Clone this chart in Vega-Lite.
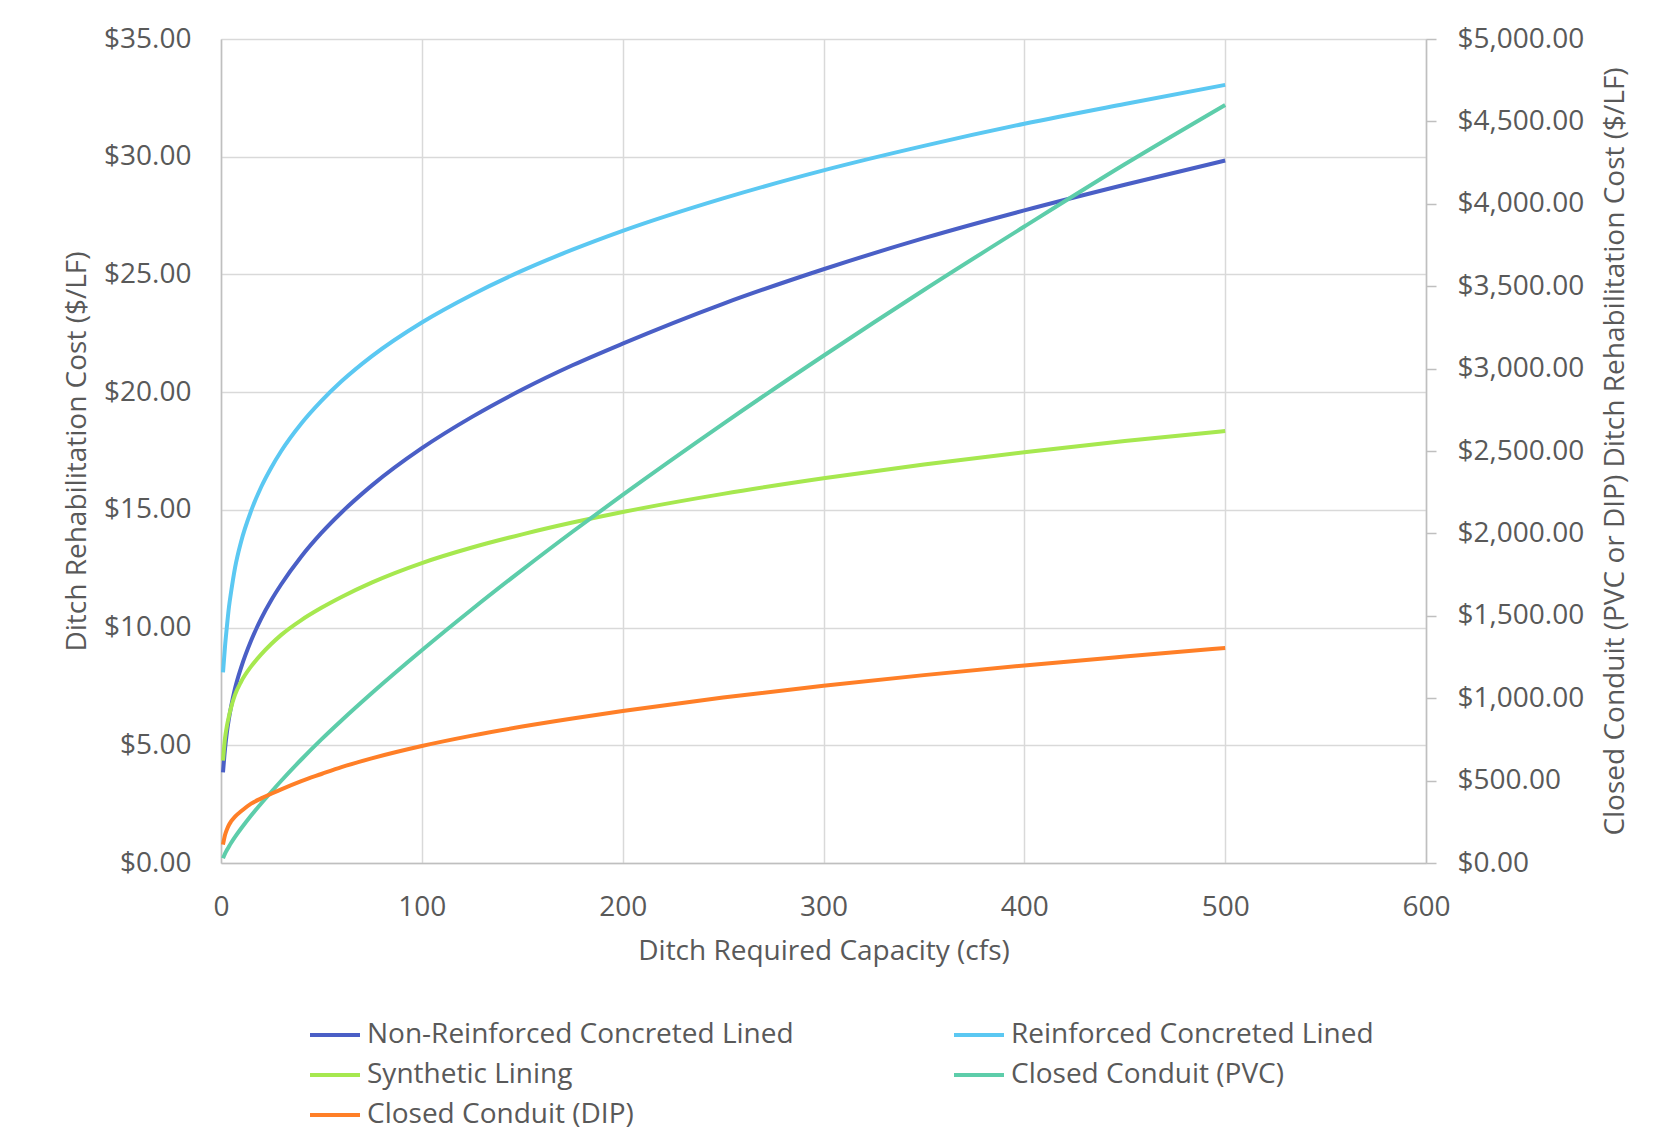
{
  "$schema": "https://vega.github.io/schema/vega-lite/v6.json",
  "width": 1205,
  "height": 824,
  "autosize": {"type": "none"},
  "padding": {"left": 221, "top": 39, "right": 241, "bottom": 282},
  "background": "white",
  "config": {
    "font": "Open Sans",
    "view": {"stroke": null},
    "axis": {
      "labelFont": "Open Sans",
      "titleFont": "Open Sans",
      "labelFontSize": 28,
      "titleFontSize": 28,
      "labelColor": "#595959",
      "titleColor": "#595959",
      "titleFontWeight": "normal",
      "gridColor": "#d9d9d9",
      "gridWidth": 1.5,
      "domainColor": "#bfbfbf",
      "domainWidth": 1.5,
      "tickColor": "#bfbfbf",
      "tickWidth": 1.5,
      "labelFlush": false,
      "labelOverlap": false
    },
    "legend": {
      "labelFont": "Open Sans"
    }
  },
  "datasets": {
    "left": [
      {"q": 1, "s": "Non-Reinforced Concreted Lined", "v": 3.85},
      {"q": 2, "s": "Non-Reinforced Concreted Lined", "v": 4.85},
      {"q": 3, "s": "Non-Reinforced Concreted Lined", "v": 5.6},
      {"q": 4, "s": "Non-Reinforced Concreted Lined", "v": 6.16},
      {"q": 5, "s": "Non-Reinforced Concreted Lined", "v": 6.63},
      {"q": 7, "s": "Non-Reinforced Concreted Lined", "v": 7.42},
      {"q": 10, "s": "Non-Reinforced Concreted Lined", "v": 8.3},
      {"q": 15, "s": "Non-Reinforced Concreted Lined", "v": 9.45},
      {"q": 20, "s": "Non-Reinforced Concreted Lined", "v": 10.38},
      {"q": 25, "s": "Non-Reinforced Concreted Lined", "v": 11.16},
      {"q": 30, "s": "Non-Reinforced Concreted Lined", "v": 11.84},
      {"q": 40, "s": "Non-Reinforced Concreted Lined", "v": 13.02},
      {"q": 50, "s": "Non-Reinforced Concreted Lined", "v": 14.02},
      {"q": 60, "s": "Non-Reinforced Concreted Lined", "v": 14.89},
      {"q": 75, "s": "Non-Reinforced Concreted Lined", "v": 16.03},
      {"q": 100, "s": "Non-Reinforced Concreted Lined", "v": 17.62},
      {"q": 125, "s": "Non-Reinforced Concreted Lined", "v": 18.95},
      {"q": 150, "s": "Non-Reinforced Concreted Lined", "v": 20.11},
      {"q": 175, "s": "Non-Reinforced Concreted Lined", "v": 21.14},
      {"q": 200, "s": "Non-Reinforced Concreted Lined", "v": 22.06},
      {"q": 250, "s": "Non-Reinforced Concreted Lined", "v": 23.75},
      {"q": 300, "s": "Non-Reinforced Concreted Lined", "v": 25.22},
      {"q": 350, "s": "Non-Reinforced Concreted Lined", "v": 26.54},
      {"q": 400, "s": "Non-Reinforced Concreted Lined", "v": 27.72},
      {"q": 450, "s": "Non-Reinforced Concreted Lined", "v": 28.81},
      {"q": 500, "s": "Non-Reinforced Concreted Lined", "v": 29.84},
      {"q": 1, "s": "Reinforced Concreted Lined", "v": 8.1},
      {"q": 2, "s": "Reinforced Concreted Lined", "v": 9.2},
      {"q": 3, "s": "Reinforced Concreted Lined", "v": 10.1},
      {"q": 4, "s": "Reinforced Concreted Lined", "v": 10.9},
      {"q": 5, "s": "Reinforced Concreted Lined", "v": 11.5},
      {"q": 7, "s": "Reinforced Concreted Lined", "v": 12.55},
      {"q": 10, "s": "Reinforced Concreted Lined", "v": 13.65},
      {"q": 15, "s": "Reinforced Concreted Lined", "v": 14.96},
      {"q": 20, "s": "Reinforced Concreted Lined", "v": 15.97},
      {"q": 25, "s": "Reinforced Concreted Lined", "v": 16.79},
      {"q": 30, "s": "Reinforced Concreted Lined", "v": 17.5},
      {"q": 40, "s": "Reinforced Concreted Lined", "v": 18.67},
      {"q": 50, "s": "Reinforced Concreted Lined", "v": 19.63},
      {"q": 60, "s": "Reinforced Concreted Lined", "v": 20.46},
      {"q": 75, "s": "Reinforced Concreted Lined", "v": 21.52},
      {"q": 100, "s": "Reinforced Concreted Lined", "v": 22.96},
      {"q": 125, "s": "Reinforced Concreted Lined", "v": 24.14},
      {"q": 150, "s": "Reinforced Concreted Lined", "v": 25.16},
      {"q": 175, "s": "Reinforced Concreted Lined", "v": 26.05},
      {"q": 200, "s": "Reinforced Concreted Lined", "v": 26.85},
      {"q": 250, "s": "Reinforced Concreted Lined", "v": 28.23},
      {"q": 300, "s": "Reinforced Concreted Lined", "v": 29.42},
      {"q": 350, "s": "Reinforced Concreted Lined", "v": 30.46},
      {"q": 400, "s": "Reinforced Concreted Lined", "v": 31.4},
      {"q": 450, "s": "Reinforced Concreted Lined", "v": 32.24},
      {"q": 500, "s": "Reinforced Concreted Lined", "v": 33.05},
      {"q": 1, "s": "Synthetic Lining", "v": 4.35},
      {"q": 2, "s": "Synthetic Lining", "v": 5.3},
      {"q": 3, "s": "Synthetic Lining", "v": 5.85},
      {"q": 4, "s": "Synthetic Lining", "v": 6.25},
      {"q": 5, "s": "Synthetic Lining", "v": 6.6},
      {"q": 7, "s": "Synthetic Lining", "v": 7.15},
      {"q": 10, "s": "Synthetic Lining", "v": 7.7},
      {"q": 15, "s": "Synthetic Lining", "v": 8.35},
      {"q": 20, "s": "Synthetic Lining", "v": 8.86},
      {"q": 25, "s": "Synthetic Lining", "v": 9.3},
      {"q": 30, "s": "Synthetic Lining", "v": 9.69},
      {"q": 40, "s": "Synthetic Lining", "v": 10.32},
      {"q": 50, "s": "Synthetic Lining", "v": 10.84},
      {"q": 60, "s": "Synthetic Lining", "v": 11.3},
      {"q": 75, "s": "Synthetic Lining", "v": 11.91},
      {"q": 100, "s": "Synthetic Lining", "v": 12.74},
      {"q": 125, "s": "Synthetic Lining", "v": 13.4},
      {"q": 150, "s": "Synthetic Lining", "v": 13.96},
      {"q": 175, "s": "Synthetic Lining", "v": 14.46},
      {"q": 200, "s": "Synthetic Lining", "v": 14.91},
      {"q": 250, "s": "Synthetic Lining", "v": 15.68},
      {"q": 300, "s": "Synthetic Lining", "v": 16.34},
      {"q": 350, "s": "Synthetic Lining", "v": 16.93},
      {"q": 400, "s": "Synthetic Lining", "v": 17.45},
      {"q": 450, "s": "Synthetic Lining", "v": 17.92},
      {"q": 500, "s": "Synthetic Lining", "v": 18.35}
    ],
    "right": [
      {"q": 1, "s": "Closed Conduit (PVC)", "v": 29},
      {"q": 2, "s": "Closed Conduit (PVC)", "v": 57},
      {"q": 3, "s": "Closed Conduit (PVC)", "v": 80},
      {"q": 4, "s": "Closed Conduit (PVC)", "v": 101},
      {"q": 5, "s": "Closed Conduit (PVC)", "v": 121},
      {"q": 7, "s": "Closed Conduit (PVC)", "v": 158},
      {"q": 10, "s": "Closed Conduit (PVC)", "v": 209},
      {"q": 15, "s": "Closed Conduit (PVC)", "v": 288},
      {"q": 20, "s": "Closed Conduit (PVC)", "v": 361},
      {"q": 25, "s": "Closed Conduit (PVC)", "v": 431},
      {"q": 30, "s": "Closed Conduit (PVC)", "v": 499},
      {"q": 40, "s": "Closed Conduit (PVC)", "v": 628},
      {"q": 50, "s": "Closed Conduit (PVC)", "v": 750},
      {"q": 60, "s": "Closed Conduit (PVC)", "v": 865},
      {"q": 75, "s": "Closed Conduit (PVC)", "v": 1030},
      {"q": 100, "s": "Closed Conduit (PVC)", "v": 1291},
      {"q": 125, "s": "Closed Conduit (PVC)", "v": 1540},
      {"q": 150, "s": "Closed Conduit (PVC)", "v": 1779},
      {"q": 175, "s": "Closed Conduit (PVC)", "v": 2010},
      {"q": 200, "s": "Closed Conduit (PVC)", "v": 2234},
      {"q": 250, "s": "Closed Conduit (PVC)", "v": 2665},
      {"q": 300, "s": "Closed Conduit (PVC)", "v": 3078},
      {"q": 350, "s": "Closed Conduit (PVC)", "v": 3477},
      {"q": 400, "s": "Closed Conduit (PVC)", "v": 3862},
      {"q": 450, "s": "Closed Conduit (PVC)", "v": 4240},
      {"q": 500, "s": "Closed Conduit (PVC)", "v": 4600},
      {"q": 1, "s": "Closed Conduit (DIP)", "v": 112},
      {"q": 2, "s": "Closed Conduit (DIP)", "v": 170},
      {"q": 3, "s": "Closed Conduit (DIP)", "v": 205},
      {"q": 4, "s": "Closed Conduit (DIP)", "v": 232},
      {"q": 5, "s": "Closed Conduit (DIP)", "v": 252},
      {"q": 7, "s": "Closed Conduit (DIP)", "v": 282},
      {"q": 10, "s": "Closed Conduit (DIP)", "v": 314},
      {"q": 15, "s": "Closed Conduit (DIP)", "v": 360},
      {"q": 20, "s": "Closed Conduit (DIP)", "v": 392},
      {"q": 25, "s": "Closed Conduit (DIP)", "v": 420},
      {"q": 30, "s": "Closed Conduit (DIP)", "v": 447},
      {"q": 40, "s": "Closed Conduit (DIP)", "v": 497},
      {"q": 50, "s": "Closed Conduit (DIP)", "v": 540},
      {"q": 60, "s": "Closed Conduit (DIP)", "v": 582},
      {"q": 75, "s": "Closed Conduit (DIP)", "v": 635},
      {"q": 100, "s": "Closed Conduit (DIP)", "v": 710},
      {"q": 125, "s": "Closed Conduit (DIP)", "v": 773},
      {"q": 150, "s": "Closed Conduit (DIP)", "v": 828},
      {"q": 175, "s": "Closed Conduit (DIP)", "v": 877},
      {"q": 200, "s": "Closed Conduit (DIP)", "v": 922},
      {"q": 250, "s": "Closed Conduit (DIP)", "v": 1004},
      {"q": 300, "s": "Closed Conduit (DIP)", "v": 1075},
      {"q": 350, "s": "Closed Conduit (DIP)", "v": 1140},
      {"q": 400, "s": "Closed Conduit (DIP)", "v": 1199},
      {"q": 450, "s": "Closed Conduit (DIP)", "v": 1253},
      {"q": 500, "s": "Closed Conduit (DIP)", "v": 1305}
    ]
  },
  "layer": [
    {
      "data": {"name": "left"},
      "mark": {"type": "line", "strokeWidth": 4, "interpolate": "monotone"},
      "encoding": {
        "x": {
          "field": "q",
          "type": "quantitative",
          "scale": {"domain": [0, 600], "nice": false},
          "axis": {
            "title": "Ditch Required Capacity (cfs)",
            "values": [0, 100, 200, 300, 400, 500, 600],
            "grid": true,
            "ticks": false,
            "tickSize": 0,
            "labelPadding": 30,
            "titleX": 602.5,
            "titleY": 88,
            "titleBaseline": "middle",
            "titleAlign": "center"
          }
        },
        "y": {
          "field": "v",
          "type": "quantitative",
          "scale": {"domain": [0, 35], "nice": false},
          "axis": {
            "title": "Ditch Rehabilitation Cost ($/LF)",
            "values": [0, 5, 10, 15, 20, 25, 30, 35],
            "format": "$.2f",
            "grid": true,
            "ticks": false,
            "tickSize": 0,
            "labelPadding": 30,
            "titleAngle": -90,
            "titleX": -144,
            "titleY": 412,
            "titleBaseline": "middle",
            "titleAlign": "center"
          }
        },
        "color": {
          "field": "s",
          "type": "nominal",
          "scale": {
            "domain": ["Non-Reinforced Concreted Lined", "Reinforced Concreted Lined", "Synthetic Lining", "Closed Conduit (PVC)", "Closed Conduit (DIP)"],
            "range": ["#4a5fc6", "#5bc8f2", "#a6e84f", "#5dcdaa", "#ff7f27"]
          },
          "legend": {
            "title": null,
            "orient": "none",
            "direction": "horizontal",
            "legendX": 87,
            "legendY": 976,
            "columns": 2,
            "columnPadding": 158,
            "rowPadding": 0,
            "clipHeight": 40,
            "padding": 0,
            "symbolType": "stroke",
            "symbolSize": 2500,
            "symbolStrokeWidth": 4,
            "labelFontSize": 28,
            "labelColor": "#595959",
            "labelOffset": 5,
            "labelLimit": 700
          }
        }
      }
    },
    {
      "data": {"name": "right"},
      "mark": {"type": "line", "strokeWidth": 4, "interpolate": "monotone"},
      "encoding": {
        "x": {"field": "q", "type": "quantitative"},
        "y": {
          "field": "v",
          "type": "quantitative",
          "scale": {"domain": [0, 5000], "nice": false},
          "axis": {
            "orient": "right",
            "title": "Closed Conduit (PVC or DIP) Ditch Rehabilitation Cost ($/LF)",
            "values": [0, 500, 1000, 1500, 2000, 2500, 3000, 3500, 4000, 4500, 5000],
            "format": "$,.2f",
            "grid": false,
            "ticks": true,
            "tickSize": 10,
            "labelPadding": 21,
            "titleAngle": -90,
            "titleX": 189,
            "titleY": 412,
            "titleBaseline": "middle",
            "titleAlign": "center"
          }
        },
        "color": {"field": "s", "type": "nominal"}
      }
    }
  ],
  "resolve": {"scale": {"y": "independent"}}
}
